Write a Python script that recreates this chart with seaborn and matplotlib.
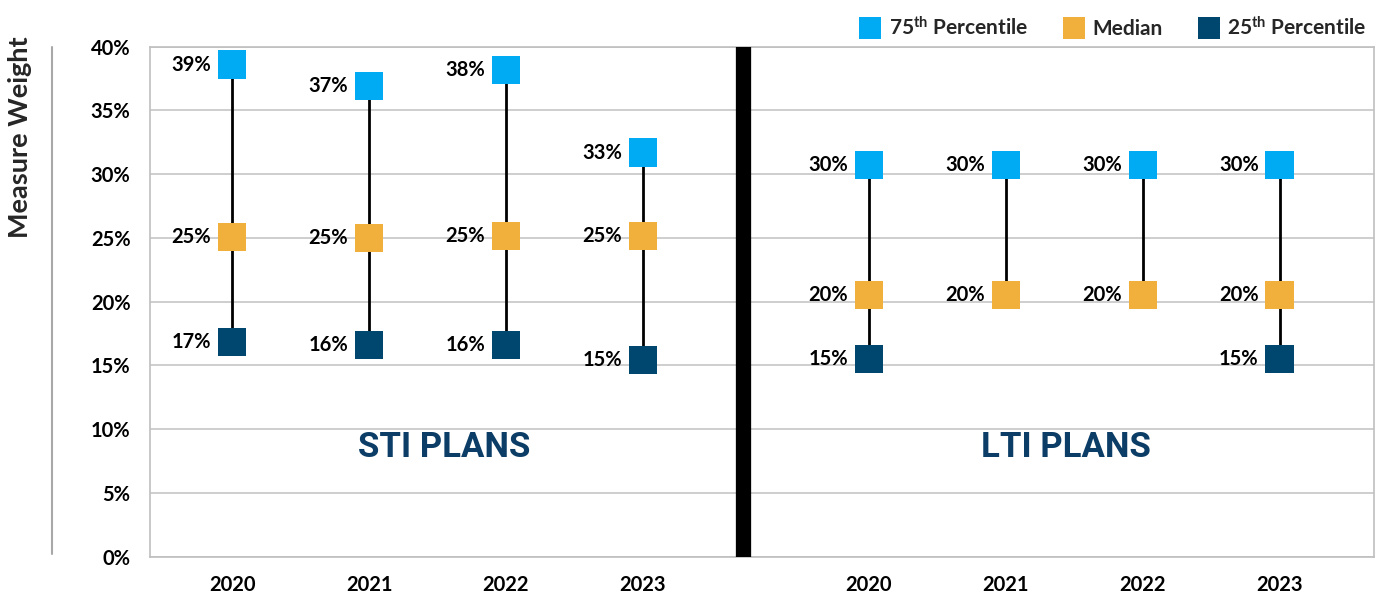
import numpy as np
import pandas as pd
import seaborn as sns
import matplotlib.pyplot as plt
from matplotlib.lines import Line2D

# Values (marker positions) and the printed data labels
years = ["2020", "2021", "2022", "2023"]
plans = ["STI PLANS", "LTI PLANS"]

sti_p75 = [38.6, 36.9, 38.2, 31.7]
sti_median = [25.1, 25.0, 25.15, 25.15]
sti_p25 = [16.85, 16.6, 16.6, 15.4]
lti_p75 = [30.75, 30.75, 30.75, 30.75]
lti_median = [20.5, 20.5, 20.5, 20.5]
lti_p25 = [15.5, np.nan, np.nan, 15.5]

sti_p75_labels = ["39%", "37%", "38%", "33%"]
sti_median_labels = ["25%", "25%", "25%", "25%"]
sti_p25_labels = ["17%", "16%", "16%", "15%"]
lti_p75_labels = ["30%", "30%", "30%", "30%"]
lti_median_labels = ["20%", "20%", "20%", "20%"]
lti_p25_labels = ["15%", "", "", "15%"]

stat_names = ["75$^{\\mathrm{th}}$ Percentile", "Median", "25$^{\\mathrm{th}}$ Percentile"]
colors = {stat_names[0]: "#00ABF4", stat_names[1]: "#F1AF3B", stat_names[2]: "#00476F"}

# layout
LTI_OFFSET = 4.65   # gap between the two groups, in category units
DIVIDER_X = 3.73

# Build a long table
rows = []
series = {
    "STI PLANS": [(sti_p75, sti_p75_labels), (sti_median, sti_median_labels), (sti_p25, sti_p25_labels)],
    "LTI PLANS": [(lti_p75, lti_p75_labels), (lti_median, lti_median_labels), (lti_p25, lti_p25_labels)],
}
for g, plan in enumerate(plans):
    for stat, (vals, labs) in zip(stat_names, series[plan]):
        for i, year in enumerate(years):
            rows.append({"plan": plan, "year": year, "x": i + g * LTI_OFFSET,
                         "stat": stat, "value": vals[i], "label": labs[i]})
df = pd.DataFrame(rows).dropna(subset=["value"])

sns.set_theme(style="white")
plt.rcParams["font.family"] = ["Lato", "DejaVu Sans"]
plt.rcParams["mathtext.fontset"] = "custom"
plt.rcParams["mathtext.rm"] = "Lato:bold"
plt.rcParams["mathtext.default"] = "rm"

fig = plt.figure(figsize=(13.86, 5.95), dpi=100)
ax = fig.add_axes([150 / 1386, 1 - 556.7 / 595, (1374 - 150) / 1386, (556.7 - 46.7) / 595])

# range lines from lowest to highest marker
rng = df.groupby("x")["value"].agg(["min", "max"]).reset_index()
ax.vlines(rng["x"], rng["min"], rng["max"], color="black", lw=2, zorder=2)

sns.scatterplot(data=df, x="x", y="value", hue="stat", hue_order=stat_names,
                palette=colors, marker="s", s=410, linewidth=0, legend=False,
                ax=ax, zorder=3)

for _, r in df.iterrows():
    if r["label"]:
        ax.annotate(r["label"], (r["x"], r["value"]), xytext=(-15, 0),
                    textcoords="offset points", ha="right", va="center",
                    fontsize=14.5, fontweight="bold", color="black")

# group titles
title_x = {"STI PLANS": 1.55, "LTI PLANS": 6.09}
for plan in plans:
    ax.text(title_x[plan], 8.6, plan, ha="center", va="center", fontsize=25,
            fontweight="bold", color="#0B3D66", family="Roboto")

ax.axvline(DIVIDER_X, color="black", lw=11, zorder=4)

ax.set_xlim(-0.6, 8.34)
ax.set_ylim(0, 40)
ax.set_yticks(np.arange(0, 41, 5))
ax.set_yticklabels([f"{v}%" for v in range(0, 41, 5)], fontsize=14.5, fontweight="bold")
xpos = [i + g * LTI_OFFSET for g in range(2) for i in range(len(years))]
ax.set_xticks(xpos)
ax.set_xticklabels(years * 2, fontsize=14.5, fontweight="bold")
ax.tick_params(axis="both", length=0, colors="black")
ax.tick_params(axis="y", pad=14)
ax.tick_params(axis="x", pad=13)
ax.set_xlabel("")
ax.set_ylabel("")
ax.yaxis.grid(True, color="#C6C6C6", lw=1.2)
ax.set_axisbelow(True)
for sp in ax.spines.values():
    sp.set_color("#BFBFBF")
    sp.set_linewidth(1.2)

# y title with its side rule
fig.text(20 / 1386, 1 - 137 / 595, "Measure Weight", rotation=90, ha="center",
         va="center", fontsize=19.5, fontweight="bold")
fig.add_artist(Line2D([52 / 1386, 52 / 1386], [1 - 47 / 595, 1 - 554 / 595],
                      color="#A8A8A8", lw=1.5))

handles = [Line2D([], [], marker="s", ls="", markersize=16, markeredgewidth=0,
                  color=colors[s]) for s in stat_names]
ax.legend(handles, stat_names, loc="lower right", bbox_to_anchor=(1.0, 1.0),
          ncol=3, frameon=False, handletextpad=0.2, handlelength=1.4,
          columnspacing=1.5, borderaxespad=0.15, borderpad=0.2,
          prop={"weight": "bold", "size": 15})

fig.savefig("out.png", dpi=100)
